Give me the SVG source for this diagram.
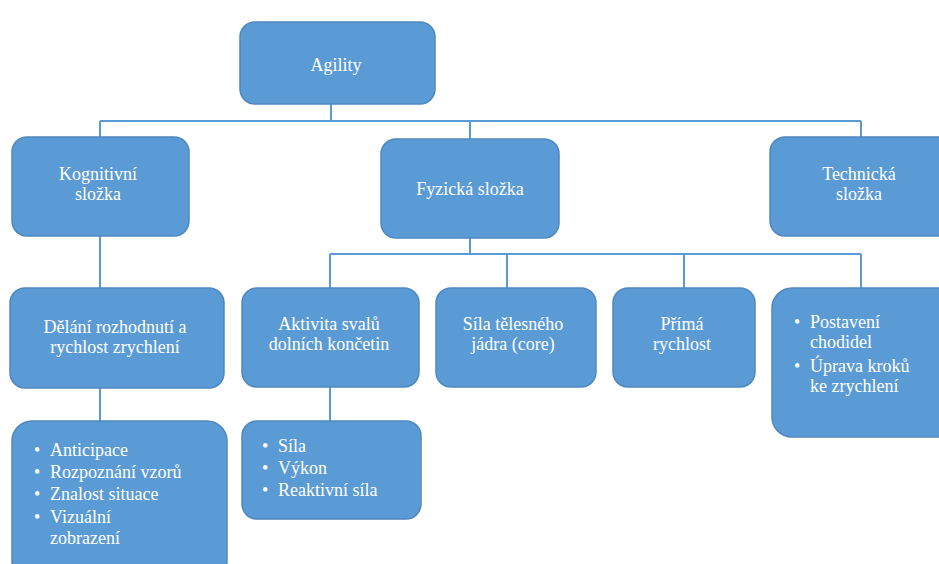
<svg xmlns="http://www.w3.org/2000/svg" width="939" height="564" viewBox="0 0 939 564">
<style>
.box{fill:#5b9bd5;stroke:#4f88bf;stroke-width:1.5}
.t{font-family:"Liberation Serif","DejaVu Serif",serif;font-size:18px;fill:#ffffff}
.c{text-anchor:middle}
.ln{fill:none;stroke:#5b9bd5;stroke-width:2}
</style>
<rect width="939" height="564" fill="#ffffff"/>
<g id="connectors">
<path class="ln" d="M331 104V121M100 121H861M100 121V137M470 121V139M861 121V137"/>
<path class="ln" d="M470 238V254M330 254H861M330 254V288M507 254V288M684 254V288M861 254V288"/>
<path class="ln" d="M100 236V288M100 388V421M330 387V421"/>
</g>
<g id="agility">
<rect class="box" x="240" y="22" width="195" height="82" rx="15"/>
<text class="t c" x="336" y="71">Agility</text>
</g>
<g id="kognitivni">
<rect class="box" x="12" y="137" width="177" height="99" rx="15"/>
<text class="t c" x="98" y="180">Kognitivní</text>
<text class="t c" x="98" y="200">složka</text>
</g>
<g id="fyzicka">
<rect class="box" x="381" y="139" width="178" height="99" rx="15"/>
<text class="t c" x="470" y="195">Fyzická složka</text>
</g>
<g id="technicka">
<rect class="box" x="770" y="137" width="185" height="99" rx="15"/>
<text class="t c" x="859" y="180">Technická</text>
<text class="t c" x="859" y="200">složka</text>
</g>
<g id="delani">
<rect class="box" x="10" y="288" width="214" height="100" rx="15"/>
<text class="t c" x="115" y="333">Dělání rozhodnutí a</text>
<text class="t c" x="115" y="353">rychlost zrychlení</text>
</g>
<g id="aktivita">
<rect class="box" x="242" y="288" width="177" height="99" rx="15"/>
<text class="t c" x="329" y="330">Aktivita svalů</text>
<text class="t c" x="329" y="350">dolních končetin</text>
</g>
<g id="sila-jadra">
<rect class="box" x="436" y="288" width="160" height="99" rx="15"/>
<text class="t c" x="513" y="330">Síla tělesného</text>
<text class="t c" x="513" y="350">jádra (core)</text>
</g>
<g id="prima">
<rect class="box" x="613" y="288" width="142" height="99" rx="15"/>
<text class="t c" x="682" y="330">Přímá</text>
<text class="t c" x="682" y="350">rychlost</text>
</g>
<g id="technicka-detail">
<rect class="box" x="772" y="288" width="185" height="149" rx="20"/>
<text class="t" x="794" y="328">•</text>
<text class="t" x="810" y="328">Postavení</text>
<text class="t" x="810" y="348">chodidel</text>
<text class="t" x="794" y="372">•</text>
<text class="t" x="810" y="372">Úprava kroků</text>
<text class="t" x="810" y="392">ke zrychlení</text>
</g>
<g id="kognitivni-detail">
<rect class="box" x="12" y="421" width="215" height="160" rx="20"/>
<text class="t" x="34" y="456">•</text>
<text class="t" x="50" y="456">Anticipace</text>
<text class="t" x="34" y="478">•</text>
<text class="t" x="50" y="478">Rozpoznání vzorů</text>
<text class="t" x="34" y="500">•</text>
<text class="t" x="50" y="500">Znalost situace</text>
<text class="t" x="34" y="523">•</text>
<text class="t" x="50" y="523">Vizuální</text>
<text class="t" x="50" y="544">zobrazení</text>
</g>
<g id="sila-detail">
<rect class="box" x="242" y="421" width="179" height="98" rx="15"/>
<text class="t" x="262" y="452">•</text>
<text class="t" x="278" y="452">Síla</text>
<text class="t" x="262" y="474">•</text>
<text class="t" x="278" y="474">Výkon</text>
<text class="t" x="262" y="496">•</text>
<text class="t" x="278" y="496">Reaktivní síla</text>
</g>
</svg>
